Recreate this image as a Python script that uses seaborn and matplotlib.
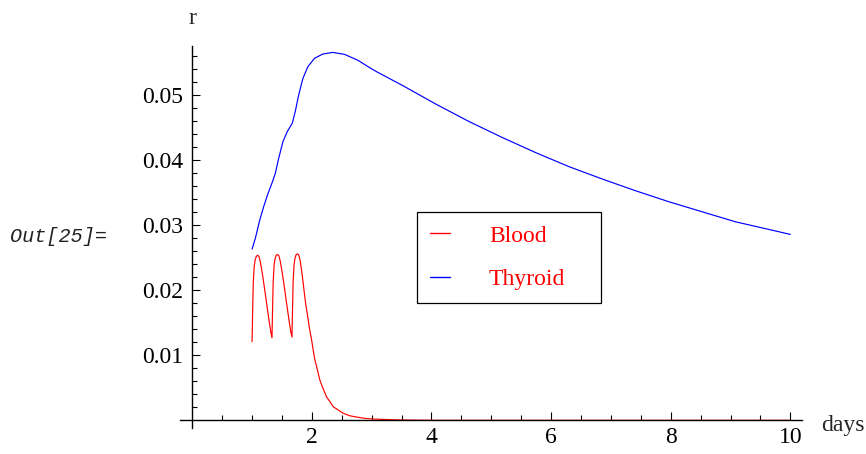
import numpy as np
import pandas as pd
import matplotlib
matplotlib.use("Agg")
import matplotlib.pyplot as plt
from matplotlib.lines import Line2D
import seaborn as sns

# ---- data ----
blood_days = [1.0, 1.01, 1.02, 1.035, 1.05, 1.07, 1.094, 1.115, 1.138, 1.175, 1.222, 1.255, 1.288, 1.315,
              1.333, 1.343, 1.353, 1.368, 1.383, 1.403, 1.427, 1.448, 1.471, 1.508, 1.555, 1.588, 1.621, 1.648,
              1.667, 1.677, 1.687, 1.702, 1.717, 1.737, 1.760, 1.781, 1.804, 1.841, 1.883, 1.9, 1.94, 1.955,
              1.995, 2.022, 2.05, 2.078, 2.133, 2.178, 2.245, 2.3, 2.355, 2.438, 2.52, 2.633, 2.745, 2.883,
              3.02, 3.245, 3.5, 4.0, 10.0]
blood_r = [0.0121, 0.0170, 0.0212, 0.0236, 0.0246, 0.0252, 0.0254, 0.0252, 0.0244, 0.0224, 0.0194, 0.0172, 0.0151, 0.0135,
           0.0127, 0.0172, 0.0213, 0.0238, 0.0248, 0.0254, 0.0255, 0.0253, 0.0245, 0.0225, 0.0195, 0.0173, 0.0152, 0.0136,
           0.0128, 0.0173, 0.0214, 0.0239, 0.0249, 0.0255, 0.0256, 0.0254, 0.0246, 0.0222, 0.0189, 0.0177, 0.0154, 0.0144,
           0.0124, 0.0108, 0.0093, 0.0083, 0.0062, 0.0051, 0.0036, 0.0029, 0.0021, 0.0016, 0.0011, 0.0007, 0.0005, 0.0003,
           0.0002, 0.00012, 0.00005, 0.0, 0.0]

thyroid_days = [1.0, 1.055, 1.128, 1.195, 1.267, 1.333, 1.389, 1.445, 1.517, 1.588, 1.672, 1.722, 1.778, 1.85,
                1.933, 2.045, 2.183, 2.35, 2.545, 2.767, 2.967, 3.088, 3.522, 4.078, 4.633, 5.19, 5.745, 6.3,
                6.855, 7.41, 7.967, 8.522, 9.078, 9.633, 10.0]
thyroid_r = [0.02635, 0.0280, 0.0308, 0.0329, 0.0349, 0.0365, 0.0380, 0.0403, 0.0429, 0.0444, 0.0457, 0.0475, 0.0500,
             0.0526, 0.0544, 0.0557, 0.05635, 0.0566, 0.0563, 0.0554, 0.05425, 0.0536, 0.05148, 0.04862, 0.04594,
             0.04348, 0.04117, 0.03902, 0.03712, 0.03532, 0.03363, 0.03209, 0.03055, 0.02938, 0.0286]

series_names = ["Blood", "Thyroid"]
series_colors = ["#ff0000", "#0000ff"]

x_ticks = [2, 4, 6, 8, 10]
x_tick_labels = ["2", "4", "6", "8", "10"]
x_minor = [0.5, 1.0, 1.5, 2.5, 3.0, 3.5, 4.5, 5.0, 5.5, 6.5, 7.0, 7.5, 8.5, 9.0, 9.5]
y_ticks = [0.01, 0.02, 0.03, 0.04, 0.05]
y_tick_labels = ["0.01", "0.02", "0.03", "0.04", "0.05"]
y_minor = [0.002, 0.004, 0.006, 0.008, 0.012, 0.014, 0.016, 0.018, 0.022, 0.024, 0.026, 0.028,
           0.032, 0.034, 0.036, 0.038, 0.042, 0.044, 0.046, 0.048, 0.052, 0.054, 0.056]

df = pd.concat([
    pd.DataFrame({"days": blood_days, "r": blood_r, "series": series_names[0]}),
    pd.DataFrame({"days": thyroid_days, "r": thyroid_r, "series": series_names[1]}),
], ignore_index=True)

sns.set_theme(style="white")
plt.rcParams["font.family"] = ["Liberation Serif", "DejaVu Serif"]

W, H = 866, 454
fig = plt.figure(figsize=(W / 100, H / 100), dpi=100)
ax = fig.add_axes([180.3 / W, 1 - 428.1 / H, 622.0 / W, 382.2 / H])

palette = dict(zip(series_names, series_colors))
sns.lineplot(data=df, x="days", y="r", hue="series", palette=palette, estimator=None,
             sort=False, legend=False, linewidth=0.85, ax=ax)
for ln in ax.get_lines():
    ln.set_solid_joinstyle("round")

ax.set_xlim(-0.2, 10.2)
ax.set_ylim(-0.0012, 0.0576)

for s in ["top", "right"]:
    ax.spines[s].set_visible(False)
ax.spines["left"].set_position(("data", 0))
ax.spines["bottom"].set_position(("data", 0))
for s in ["left", "bottom"]:
    ax.spines[s].set_color("black")
    ax.spines[s].set_linewidth(1.0)

ax.set_xticks(x_ticks, x_tick_labels)
ax.set_xticks(x_minor, minor=True)
ax.set_yticks(y_ticks, y_tick_labels)
ax.set_yticks(y_minor, minor=True)
ax.tick_params(axis="both", which="major", direction="in", length=5.8, width=0.8, color="black",
               labelsize=17, labelcolor="black")
ax.tick_params(axis="both", which="minor", direction="in", length=3.6, width=0.8, color="black")
ax.tick_params(axis="y", which="both", left=True, pad=6.5)
ax.tick_params(axis="x", which="both", bottom=True, pad=5)
ax.set_xlabel("")
ax.set_ylabel("")
ax.grid(False)

fig.text(192 / W, 1 - 18 / H, "r", ha="center", va="center", fontsize=17)
fig.text(821 / W, 1 - 425 / H, "days", ha="left", va="center", fontsize=17)
fig.text(10 / W, 1 - 237 / H, "Out[25]=", ha="left", va="center", fontsize=14.5,
         family=["Liberation Mono", "DejaVu Sans Mono"], style="italic", color="#222222")

handles = [Line2D([], [], color=c, lw=1.0) for c in series_colors]
leg = ax.legend(handles, series_names, loc="center left",
                bbox_to_anchor=(417 / W, 1 - 303 / H, 184 / W, 91 / H), bbox_transform=fig.transFigure,
                mode="expand", borderaxespad=0, fontsize=17, handlelength=0.85, handletextpad=1.65,
                borderpad=0.55, labelspacing=0.92, frameon=True, fancybox=False, framealpha=1,
                edgecolor="black")
leg.get_frame().set_linewidth(0.9)
for t in leg.get_texts():
    t.set_color("#ff0000")

fig.savefig("out.png", dpi=100)
